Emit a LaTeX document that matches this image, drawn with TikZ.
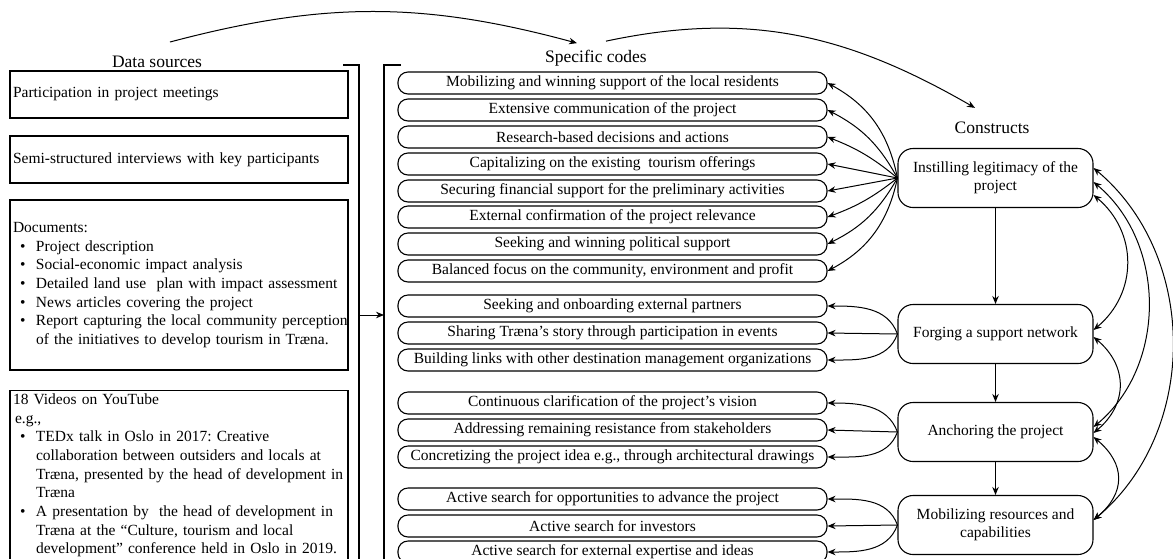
\documentclass[tikz,border=0pt]{standalone}
\usepackage{fontspec}
\setmainfont{Liberation Serif}
\usetikzlibrary{arrows.meta}
\frenchspacing

\newcommand{\bul}[1]{\mbox{\makebox[23pt][l]{\hspace*{7pt}\textbullet}#1}}
\newcommand{\cont}[1]{\mbox{\hspace*{23pt}#1}}

\tikzset{
  head/.style={font=\fontsize{17.5}{20}\selectfont, anchor=base},
  srcbox/.style={draw, line width=1.1pt, text width=332pt, inner sep=3pt, align=left,
    font=\fontsize{15.5}{18.7}\selectfont},
  codebox/.style={draw, line width=1.1pt, rounded corners=10pt, minimum width=429pt,
    minimum height=22pt, inner sep=1pt, font=\fontsize{15.5}{18}\selectfont},
  conbox/.style={draw, line width=1.1pt, rounded corners=15pt, minimum width=195pt,
    minimum height=59pt, align=center, font=\fontsize{15.5}{18}\selectfont},
  arr/.style={-{Stealth[length=8pt,width=6.5pt]}, line width=1pt},
  twoway/.style={{Stealth[length=8pt,width=6.5pt]}-{Stealth[length=8pt,width=6.5pt]}, line width=1pt},
}

\begin{document}
\begin{tikzpicture}[x=1pt, y=1pt]
    \useasboundingbox (0,0) rectangle (1173,-558);

    % headings
    \node[head] (dsrc) at (157,-67) {Data sources};
    \node[head] (scodes) at (596,-62) {Specific codes};
    \node[head] (cons) at (992,-133) {Constructs};

    % data sources
    \node[srcbox, minimum height=47pt] (meet) at (179,-94.5) {Participation in project meetings};
    \node[srcbox, minimum height=47pt] (intv) at (179,-159.5) {Semi-structured interviews with key participants};
    \node[srcbox, minimum height=170pt] (docs) at (179,-285) {Documents:\\
      \bul{Project description}\\
      \bul{Social-economic impact analysis}\\
      \bul{Detailed land use\ \ plan with impact assessment}\\
      \bul{News articles covering the project}\\
      \bul{Report capturing the local community perception}\\
      \cont{of the initiatives to develop tourism in Træna.}};
    \node[srcbox, anchor=north] (videos) at (179,-390) {18 Videos on YouTube\\
      \hspace*{2pt}e.g.,\\
      \bul{TEDx talk in Oslo in 2017: Creative}\\
      \cont{collaboration between outsiders and locals at}\\
      \cont{Træna, presented by the head of development in}\\
      \cont{Træna}\\
      \bul{A presentation by\ \ the head of development in}\\
      \cont{Træna at the “Culture, tourism and local}\\
      \cont{development” conference held in Oslo in 2019.}\\
      \mbox{}};

    % brackets
    \coordinate (b1a) at (343,-65);
    \coordinate (b1b) at (359,-580);
    \coordinate (b2a) at (401,-65);
    \coordinate (b2b) at (384,-580);
    \coordinate (b1m) at (359,-315);
    \coordinate (b2m) at (384,-315);
    \draw[line width=1.1pt] (b1a) -| (b1b);
    \draw[line width=1.1pt] (b2a) -| (b2b);
    \draw[arr] (b1m) -- (b2m);

    % specific codes
    \foreach [count=\i] \y/\t in {83/{Mobilizing and winning support of the local residents},
        110/{Extensive communication of the project},
        137/{Research-based decisions and actions},
        164/{Capitalizing on the existing\ \ tourism offerings},
        191/{Securing financial support for the preliminary activities},
        217/{External confirmation of the project relevance},
        244/{Seeking and winning political support},
        271/{Balanced focus on the community, environment and profit},
        306/{Seeking and onboarding external partners},
        333/{Sharing Træna’s story through participation in events},
        360/{Building links with other destination management organizations},
        403/{Continuous clarification of the project’s vision},
        430/{Addressing remaining resistance from stakeholders},
        457/{Concretizing the project idea e.g., through architectural drawings},
        499/{Active search for opportunities to advance the project},
        526/{Active search for investors},
        552/{Active search for external expertise and ideas}} {
      \node[codebox] (c\i) at (612.5,-\y) {\t};
    }

    % constructs
    \node[conbox] (legit) at (995.5,-178) {Instilling legitimacy of the\\project};
    \node[conbox] (netw) at (995.5,-334) {Forging a support network};
    \node[conbox] (anch) at (995.5,-432) {Anchoring the project};
    \node[conbox] (mobil) at (995.5,-525) {Mobilizing resources and\\capabilities};

    \draw[arr] (legit) -- (netw);
    \draw[arr] (netw) -- (anch);
    \draw[arr] (anch) -- (mobil);

    \foreach \i/\b in {1/25, 2/17, 3/9, 4/0}
      \draw[arr] (legit.west) to[bend right=\b] (c\i.east);
    \foreach \i/\b in {5/0, 6/9, 7/17, 8/25}
      \draw[arr] (legit.west) to[bend left=\b] (c\i.east);
    \foreach \k/\a/\b/\c in {netw/9/10/11, anch/12/13/14, mobil/15/16/17} {
      \draw[arr] (\k.west) to[out=110, in=0] (c\a.east);
      \draw[arr] (\k.west) -- (c\b.east);
      \draw[arr] (\k.west) to[out=-110, in=0] (c\c.east);
    }

    % links between constructs
    \draw[twoway] ([yshift=-17pt]legit.east) to[out=-40, in=40, looseness=1.1] ([yshift=4pt]netw.east);
    \draw[twoway] ([yshift=-4pt]legit.east) to[out=-40, in=40] ([yshift=5pt]anch.east);
    \draw[twoway] ([yshift=10pt]legit.east) to[out=-40, in=40] ([yshift=5pt]mobil.east);
    \draw[twoway] ([yshift=-3pt]netw.east) to[out=-40, in=40, looseness=1.2] ([yshift=-1pt]anch.east);
    \draw[twoway] ([yshift=-5pt]anch.east) to[out=-40, in=40, looseness=1.3] ([yshift=5pt]mobil.east);

    % flow between the columns
    \draw[arr] ([xshift=13pt,yshift=10pt]dsrc.north) to[bend left=15] ([xshift=-19pt,yshift=3pt]scodes.north);
    \draw[arr] ([xshift=10pt,yshift=5pt]scodes.north) to[out=12, in=150] ([xshift=-17pt,yshift=10pt]cons.north);
\end{tikzpicture}
\end{document}
